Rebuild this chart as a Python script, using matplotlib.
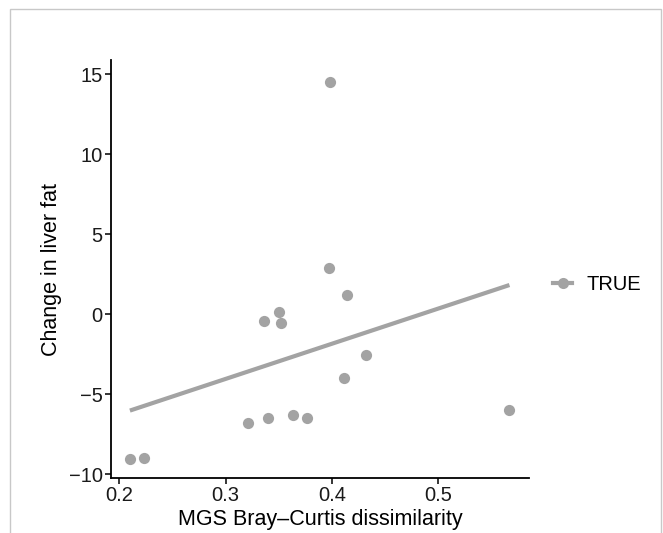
import numpy as np
import matplotlib
matplotlib.use('Agg')
import matplotlib.pyplot as plt
from matplotlib.patches import Rectangle
from matplotlib.lines import Line2D

plt.rcParams['font.family'] = ['Liberation Sans', 'DejaVu Sans']

# MGS Bray-Curtis dissimilarity vs change in liver fat
dissimilarity = [0.398, 0.397, 0.414, 0.350, 0.336, 0.352, 0.432, 0.4115,
                 0.321, 0.340, 0.363, 0.377, 0.210, 0.2235, 0.567]
liver_fat = [14.55, 2.88, 1.18, 0.16, -0.42, -0.52, -2.51, -4.0,
             -6.8, -6.48, -6.27, -6.48, -9.07, -8.97, -5.99]
x_ticks = [0.2, 0.3, 0.4, 0.5]
y_ticks = [-10, -5, 0, 5, 10, 15]

grey = '#a3a3a3'

fig = plt.figure(figsize=(6.63, 5.33), dpi=100)
ax = fig.add_axes([0.1674, 0.1032, 0.6305, 0.7842])

ax.scatter(dissimilarity, liver_fat, s=65, color=grey, linewidths=0, zorder=3)

# linear fit like geom_smooth(method = lm)
slope, intercept = np.polyfit(dissimilarity, liver_fat, 1)
xs = np.array([min(dissimilarity), max(dissimilarity)])
ax.plot(xs, slope * xs + intercept, color=grey, lw=3, solid_capstyle='butt', zorder=2)

ax.set_xlim(0.1922, 0.5854)
ax.set_ylim(-10.23, 15.9)
ax.set_xticks(x_ticks)
ax.set_xticklabels([str(t) for t in x_ticks])
ax.set_yticks(y_ticks)
ax.set_yticklabels([str(t).replace('-', '\u2212') for t in y_ticks])

for side in ['top', 'right']:
    ax.spines[side].set_visible(False)
for side in ['left', 'bottom']:
    ax.spines[side].set_linewidth(1.3)
ax.tick_params(length=4, width=1.1, labelsize=14.5, labelcolor='#1a1a1a', pad=2)

ax.set_xlabel('MGS Bray\u2013Curtis dissimilarity', fontsize=15.5, labelpad=3)
ax.set_ylabel('Change in liver fat', fontsize=15.5, labelpad=5)

handle = Line2D([], [], color=grey, lw=3, marker='o', markersize=8, markeredgewidth=0)
fig.legend([handle], ['TRUE'], loc='center left', bbox_to_anchor=(553 / 663, 1 - 285 / 533),
           frameon=False, fontsize=14.5, handlelength=0.95, handletextpad=0.7,
           borderpad=0, borderaxespad=0)

# light frame around the figure
fig.patches.append(Rectangle((10 / 663, -0.05), 651 / 663, 1.05 - 9 / 533,
                             transform=fig.transFigure, fill=False,
                             edgecolor='#c8c8c8', lw=1))

fig.savefig('out.png', dpi=100)
